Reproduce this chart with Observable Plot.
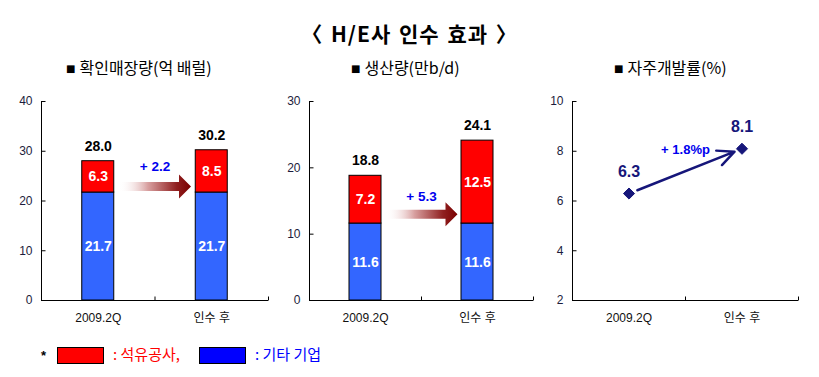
<!DOCTYPE html>
<html><head><meta charset="utf-8">
<script src="https://cdn.jsdelivr.net/npm/d3@7"></script>
<script src="https://cdn.jsdelivr.net/npm/@observablehq/plot@0.6"></script>
<style>
body{margin:0;background:#fff;}
#wrap{position:relative;width:819px;height:377px;overflow:hidden;font-family:"Liberation Sans","Noto Sans CJK KR",sans-serif;color:#000;}
.abs{position:absolute;white-space:nowrap;}
#title{left:0;width:819px;top:19px;line-height:28px;text-align:center;font-size:21px;font-weight:bold;letter-spacing:1px;word-spacing:2px;font-family:"Noto Sans CJK KR",sans-serif;}
.sub{top:55px;line-height:24px;font-size:16px;font-family:"Noto Sans CJK KR",sans-serif;}
.sq{font-family:"DejaVu Sans";font-size:10px;vertical-align:2px;margin-right:4px;}
.panel{position:absolute;top:90px;}
#legend{left:0;top:345px;height:22px;width:400px;font-family:"Noto Sans CJK KR",sans-serif;font-size:15px;}
.lbox{position:absolute;top:2px;width:45px;height:15px;border:1px solid #000;}
.ltxt{position:absolute;top:-2px;line-height:22px;}
</style></head>
<body><div id="wrap">
<div id="title" class="abs">〈 H/E사 인수 효과 〉</div>
<div id="sub1" class="abs sub" style="left:66px"></div>
<div id="sub2" class="abs sub" style="left:351px"></div>
<div id="sub3" class="abs sub" style="left:614px"></div>
<div id="p1" class="panel" style="left:0px"></div>
<div id="p2" class="panel" style="left:270px"></div>
<div id="p3" class="panel" style="left:540px"></div>
<div id="legend" class="abs"></div>
</div>
<script>
// ---------- data ----------
const categories = ["2009.2Q", "인수 후"];
const seriesNames = ["기타 기업", "석유공사"];
const seriesColors = ["#3366ff", "#ff0000"];
const legendColors = ["#0000ff", "#ff0000"];
const panelTitles = ["확인매장량(억 배럴)", "생산량(만b/d)", "자주개발률(%)"];

const reservesOther = [21.7, 21.7];
const reservesKnoc = [6.3, 8.5];
const reservesTotal = [28.0, 30.2];
const reservesTicks = [0, 10, 20, 30, 40];
const reservesDelta = "+ 2.2";

const productionOther = [11.6, 11.6];
const productionKnoc = [7.2, 12.5];
const productionTotal = [18.8, 24.1];
const productionTicks = [0, 10, 20, 30];
const productionDelta = "+ 5.3";

const selfDevRate = [6.3, 8.1];
const selfDevTicks = [2, 4, 6, 8, 10];
const selfDevDelta = "+ 1.8%p";

// ---------- helpers ----------
const FONT = "'Liberation Sans','Noto Sans CJK KR',sans-serif";
const tickShape = {draw(ctx, l) { ctx.moveTo(0, 0); ctx.lineTo(0, -l); }};
const blockArrow = {draw(ctx, l) {
  const sw = 4.5, hw = 12, hl = 12;
  ctx.moveTo(-sw, 0); ctx.lineTo(-sw, -(l - hl)); ctx.lineTo(-hw, -(l - hl));
  ctx.lineTo(0, -l); ctx.lineTo(hw, -(l - hl)); ctx.lineTo(sw, -(l - hl)); ctx.lineTo(sw, 0);
  ctx.closePath();
}};

["sub1","sub2","sub3"].forEach((id, k) => {
  document.getElementById(id).innerHTML = `<span class="sq">■</span>${panelTitles[k]}`;
});

function frameMarks(ticks) {
  return [
    Plot.ruleX([0], {stroke: "black"}),
    Plot.ruleY([ticks[0]], {stroke: "black"}),
    Plot.vector(ticks, {y: d => d, frameAnchor: "left", rotate: 90, length: 4, anchor: "start", shape: tickShape, stroke: "black", strokeWidth: 1, strokeLinecap: "butt"}),
    Plot.vector([0, 1, 2], {x: d => d, frameAnchor: "bottom", length: 4, anchor: "start", shape: tickShape, stroke: "black", strokeWidth: 1, strokeLinecap: "butt"}),
    Plot.axisY({ticks, tickSize: 0, tickPadding: 9, label: null, fontSize: 12, fill: "#1c1c3c"}),
    Plot.axisX({ticks: [0.5, 1.5], tickFormat: v => categories[Math.floor(v)], tickSize: 0, tickPadding: 13, label: null, fontSize: 12, fill: "#111"})
  ];
}

function barPanel(cfg) {
  const rows = [];
  categories.forEach((c, i) => {
    let base = 0;
    [cfg.other[i], cfg.knoc[i]].forEach((v, s) => {
      rows.push({i, series: seriesNames[s], value: v, y1: base, y2: base + v});
      base += v;
    });
  });
  const totals = categories.map((c, i) => ({i, total: cfg.total[i]}));
  const step = (cfg.width - cfg.ml - cfg.mr) / 2;
  const inset = (step - 32) / 2;
  const svg = Plot.plot({
    width: cfg.width, height: 250,
    marginLeft: cfg.ml, marginRight: cfg.mr, marginTop: 11, marginBottom: 40,
    style: {background: "transparent", overflow: "visible", fontFamily: FONT},
    x: {domain: [0, 2]},
    y: {domain: [cfg.ticks[0], cfg.ticks[cfg.ticks.length - 1]]},
    color: {domain: seriesNames, range: seriesColors},
    marks: [
      Plot.rect(rows, {x1: d => d.i, x2: d => d.i + 1, y1: "y1", y2: "y2", fill: "series", stroke: "black", strokeWidth: 1, insetLeft: inset, insetRight: inset}),
      Plot.text(rows, {x: d => d.i + 0.5, y: d => (d.y1 + d.y2) / 2, text: d => d.value.toFixed(1), fill: "white", fontWeight: "bold", fontSize: 14}),
      Plot.text(totals, {x: d => d.i + 0.5, y: "total", dy: -15, text: d => d.total.toFixed(1), fill: "black", fontWeight: "bold", fontSize: 14}),
      Plot.vector([cfg.arrowY], {x: () => 1, y: d => d, rotate: 90, length: 72, anchor: "middle", shape: blockArrow, fill: `url(#${cfg.id}-grad)`, stroke: "none"}),
      Plot.text([cfg.delta], {x: () => 1, y: () => cfg.deltaY, text: d => d, fill: "#0000ee", fontWeight: "bold", fontSize: 13.5}),
      ...frameMarks(cfg.ticks)
    ]
  });
  d3.select(svg).insert("defs", ":first-child").html(
    `<linearGradient id="${cfg.id}-grad" x1="0" y1="1" x2="0" y2="0">
       <stop offset="0" stop-color="#ffffff" stop-opacity="0"/>
       <stop offset="0.4" stop-color="#d8a0a0"/>
       <stop offset="0.8" stop-color="#902020"/>
       <stop offset="1" stop-color="#7a0000"/>
     </linearGradient>`);
  document.getElementById(cfg.id).appendChild(svg);
}

barPanel({id: "p1", width: 275, ml: 41, mr: 7, other: reservesOther, knoc: reservesKnoc, total: reservesTotal, ticks: reservesTicks, delta: reservesDelta, arrowY: 22.9, deltaY: 27});
barPanel({id: "p2", width: 270, ml: 39, mr: 7, other: productionOther, knoc: productionKnoc, total: productionTotal, ticks: productionTicks, delta: productionDelta, arrowY: 13.0, deltaY: 15.6});

// line panel
{
  const navy = "#16167a";
  const pts = categories.map((c, i) => ({i, v: selfDevRate[i]}));
  const svg = Plot.plot({
    width: 270, height: 250,
    marginLeft: 32, marginRight: 12, marginTop: 11, marginBottom: 40,
    style: {background: "transparent", overflow: "visible", fontFamily: FONT},
    x: {domain: [0, 2]},
    y: {domain: [selfDevTicks[0], selfDevTicks[selfDevTicks.length - 1]]},
    marks: [
      Plot.arrow([pts], {x1: d => d[0].i + 0.5, y1: d => d[0].v, x2: d => d[1].i + 0.5, y2: d => d[1].v, insetStart: 9, insetEnd: 8, stroke: navy, strokeWidth: 2.5, headLength: 11, headAngle: 50}),
      Plot.dot(pts, {x: d => d.i + 0.5, y: "v", symbol: "diamond2", r: 5, fill: navy, stroke: navy, strokeWidth: 1}),
      Plot.text(pts, {x: d => d.i + 0.5, y: "v", dy: -22, text: d => d.v.toFixed(1), fill: navy, fontWeight: "bold", fontSize: 16}),
      Plot.text([selfDevDelta], {x: () => 1, y: () => 8.05, text: d => d, fill: "#0000ee", fontWeight: "bold", fontSize: 13}),
      ...frameMarks(selfDevTicks)
    ]
  });
  document.getElementById("p3").appendChild(svg);
}

// legend
{
  const lg = document.getElementById("legend");
  const items = [
    {name: seriesNames[1], box: legendColors[1], left: 57, suffix: ","},
    {name: seriesNames[0], box: legendColors[0], left: 199, suffix: ""}
  ];
  let html = `<span class="ltxt" style="left:41px;font-family:'Liberation Sans';font-weight:bold;font-size:13px;top:0px">*</span>`;
  items.forEach(it => {
    html += `<div class="lbox" style="left:${it.left}px;background:${it.box}"></div>`;
    html += `<span class="ltxt" style="left:${it.left + 56}px;color:${it.box}">: ${it.name}${it.suffix}</span>`;
  });
  lg.innerHTML = html;
}
</script>
</body></html>
